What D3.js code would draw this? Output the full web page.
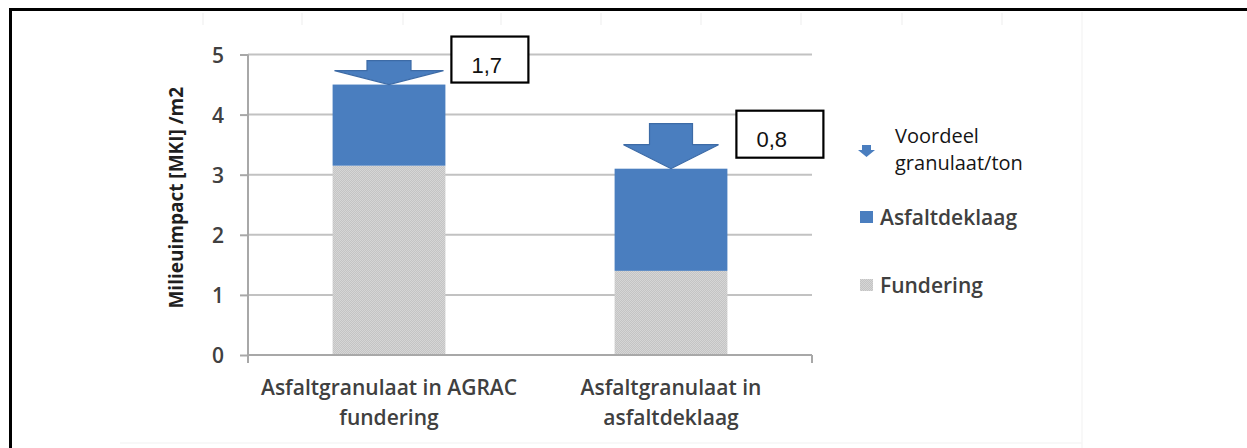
<!DOCTYPE html>
<html>
<head>
<meta charset="utf-8">
<script src="https://cdn.jsdelivr.net/npm/d3@7"></script>
<style>
  html, body { margin: 0; padding: 0; background: #ffffff; }
  svg { display: block; }
</style>
</head>
<body>
<svg id="chart" width="1247" height="448"></svg>
<script>
// Milieuimpact per m2 voor twee toepassingen van asfaltgranulaat
const categories = ["Asfaltgranulaat in AGRAC\nfundering", "Asfaltgranulaat in\nasfaltdeklaag"];
const fundering = [3.15, 1.4];
const asfaltdeklaag = [1.35, 1.7];
const voordeelLabels = ["1,7", "0,8"];
const yTicks = [0, 1, 2, 3, 4, 5];
const legendLabels = ["Voordeel\ngranulaat/ton", "Asfaltdeklaag", "Fundering"];

// Styling / layout
const BLUE = "#4a7ebf";
const BLUE_EDGE = "#3d6ba6";
const TEXT = "#404040";
const GRID = "#c2c2c2";
const AXIS = "#a8a8a8";
const FONT = "'Open Sans', sans-serif";

const plot = { left: 248, right: 812, top: 54.5, bottom: 355 };

// arrow and callout geometry, one per category
const arrowShapes = [
  { shaftW: 44, headW: 109, shaftH: 10, headH: 14 },
  { shaftW: 43, headW: 95, shaftH: 21, headH: 24 }
];
const calloutBoxes = [
  { dx: 6, dy: -48, w: 77, h: 46 },
  { dx: 9, dy: -58, w: 87, h: 47 }
];

const svg = d3.select("#chart");

// Fine stipple used for the Fundering segments
const defs = svg.append("defs");
const pat = defs.append("pattern")
  .attr("id", "stipple").attr("width", 2).attr("height", 2)
  .attr("patternUnits", "userSpaceOnUse");
pat.append("rect").attr("width", 2).attr("height", 2).attr("fill", "#c4c4c4");
pat.append("rect").attr("width", 1).attr("height", 1).attr("fill", "#d6d6d6");
pat.append("rect").attr("x", 1).attr("y", 1).attr("width", 1).attr("height", 1).attr("fill", "#d6d6d6");

// Faint page table remnants
const faint = svg.append("g").attr("stroke", "#f3f3f3").attr("stroke-width", 1.5);
[203, 302, 403, 501, 601, 701, 801, 902, 1002].forEach(px => {
  faint.append("line").attr("x1", px).attr("x2", px).attr("y1", 13).attr("y2", 25);
});
faint.append("line").attr("x1", 1082).attr("x2", 1082).attr("y1", 12).attr("y2", 448).attr("stroke", "#f6f6f6");
faint.append("line").attr("x1", 120).attr("x2", 1082).attr("y1", 443).attr("y2", 443).attr("stroke", "#f6f6f6");

// Outer frame (top and left edges)
svg.append("path")
  .attr("d", "M10.5,448 V9.5 H1247")
  .attr("fill", "none").attr("stroke", "#000").attr("stroke-width", 3);

// Scales
const x = d3.scaleBand().domain(categories)
  .range([plot.left, plot.right]).paddingInner(0.6).paddingOuter(0.3);
const y = d3.scaleLinear().domain([0, 5]).range([plot.bottom, plot.top]);

// Gridlines
svg.append("g").selectAll("line").data(yTicks.filter(d => d > 0)).join("line")
  .attr("x1", plot.left).attr("x2", plot.right)
  .attr("y1", d => y(d)).attr("y2", d => y(d))
  .attr("stroke", GRID).attr("stroke-width", 2);

// Y axis
const yAxis = svg.append("g").attr("transform", `translate(${plot.left},0)`)
  .call(d3.axisLeft(y).tickValues(yTicks).tickSize(8).tickPadding(16).tickFormat(d3.format("d")));
yAxis.select(".domain").remove();
yAxis.selectAll(".tick line").attr("stroke", AXIS).attr("stroke-width", 2);
yAxis.selectAll(".tick text")
  .attr("fill", TEXT).style("font-family", FONT).style("font-size", "21px")
  .style("font-weight", 600).attr("dy", "0.36em");
svg.append("line")
  .attr("x1", plot.left).attr("x2", plot.left).attr("y1", y(5)).attr("y2", plot.bottom + 8)
  .attr("stroke", AXIS).attr("stroke-width", 2);

// Stacked bars
const stackData = categories.map((c, i) => ({ cat: c, fundering: fundering[i], asfaltdeklaag: asfaltdeklaag[i] }));
const series = d3.stack().keys(["fundering", "asfaltdeklaag"])(stackData);
const fills = { fundering: "url(#stipple)", asfaltdeklaag: BLUE };
svg.append("g").selectAll("g").data(series).join("g")
  .attr("fill", s => fills[s.key])
  .selectAll("rect").data(s => s).join("rect")
  .attr("x", d => x(d.data.cat))
  .attr("width", x.bandwidth())
  .attr("y", d => y(d[1]))
  .attr("height", d => y(d[0]) - y(d[1]));

// X axis with a tick at its right end
svg.append("line")
  .attr("x1", plot.left).attr("x2", plot.right).attr("y1", plot.bottom).attr("y2", plot.bottom)
  .attr("stroke", AXIS).attr("stroke-width", 2);
svg.append("line")
  .attr("x1", plot.right).attr("x2", plot.right).attr("y1", plot.bottom).attr("y2", plot.bottom + 8)
  .attr("stroke", AXIS).attr("stroke-width", 2);

// Category labels (two lines each)
const catLabels = svg.append("g").selectAll("text").data(categories).join("text")
  .attr("x", d => x(d) + x.bandwidth() / 2)
  .attr("y", 395)
  .attr("text-anchor", "middle")
  .attr("fill", TEXT).style("font-family", FONT).style("font-size", "21px").style("font-weight", 600);
catLabels.selectAll("tspan").data(d => d.split("\n")).join("tspan")
  .attr("x", function () { return this.parentNode.getAttribute("x"); })
  .attr("dy", (d, i) => i === 0 ? 0 : 30)
  .text(d => d);

// Y axis title
svg.append("text")
  .attr("transform", `translate(183,${(plot.top + plot.bottom) / 2 - 7}) rotate(-90)`)
  .attr("text-anchor", "middle")
  .attr("fill", "#1f1f1f")
  .style("font-family", FONT).style("font-size", "19px").style("font-weight", "bold")
  .text("Milieuimpact [MKI] /m2");

// Benefit arrows, tip resting on the top of each stack
const totals = categories.map((c, i) => fundering[i] + asfaltdeklaag[i]);
function arrowPath(cx, tipY, s) {
  const baseY = tipY - s.headH;
  const topY = baseY - s.shaftH;
  return `M${cx - s.shaftW / 2},${topY} H${cx + s.shaftW / 2} V${baseY} H${cx + s.headW / 2} L${cx},${tipY} L${cx - s.headW / 2},${baseY} H${cx - s.shaftW / 2} Z`;
}
svg.append("g").selectAll("path").data(categories).join("path")
  .attr("d", (c, i) => arrowPath(x(c) + x.bandwidth() / 2, y(totals[i]), arrowShapes[i]))
  .attr("fill", BLUE).attr("stroke", BLUE_EDGE).attr("stroke-width", 1.2)
  .attr("stroke-linejoin", "miter");

// Callout boxes with the benefit per ton
const callouts = svg.append("g").selectAll("g").data(categories).join("g")
  .attr("transform", (c, i) => `translate(${x(c) + x.bandwidth() + calloutBoxes[i].dx},${y(totals[i]) + calloutBoxes[i].dy})`);
callouts.append("rect")
  .attr("width", (c, i) => calloutBoxes[i].w).attr("height", (c, i) => calloutBoxes[i].h)
  .attr("fill", "#fff").attr("stroke", "#000").attr("stroke-width", 2.2);
callouts.append("text")
  .attr("x", 20).attr("y", 36)
  .attr("fill", "#111")
  .style("font-family", "'Liberation Sans', Arial, sans-serif").style("font-size", "22px")
  .text((c, i) => voordeelLabels[i]);

// Legend
const legend = svg.append("g");
legend.append("path")
  .attr("d", arrowPath(866.5, 157, { shaftW: 9, headW: 17, shaftH: 5, headH: 7 }))
  .attr("fill", BLUE);
legend.append("text")
  .attr("x", 895).attr("y", 143)
  .attr("fill", "#151515").style("font-family", FONT).style("font-size", "20px")
  .selectAll("tspan").data(legendLabels[0].split("\n")).join("tspan")
  .attr("x", 895).attr("dy", (d, i) => i === 0 ? 0 : 27).text(d => d);
legend.append("rect").attr("x", 860).attr("y", 211).attr("width", 13).attr("height", 12).attr("fill", BLUE);
legend.append("text").attr("x", 880).attr("y", 225)
  .attr("fill", TEXT).style("font-family", FONT).style("font-size", "21px").style("font-weight", 600)
  .text(legendLabels[1]);
legend.append("rect").attr("x", 860).attr("y", 279).attr("width", 13).attr("height", 12).attr("fill", "url(#stipple)");
legend.append("text").attr("x", 880).attr("y", 293)
  .attr("fill", TEXT).style("font-family", FONT).style("font-size", "21px").style("font-weight", 600)
  .text(legendLabels[2]);
</script>
</body>
</html>
